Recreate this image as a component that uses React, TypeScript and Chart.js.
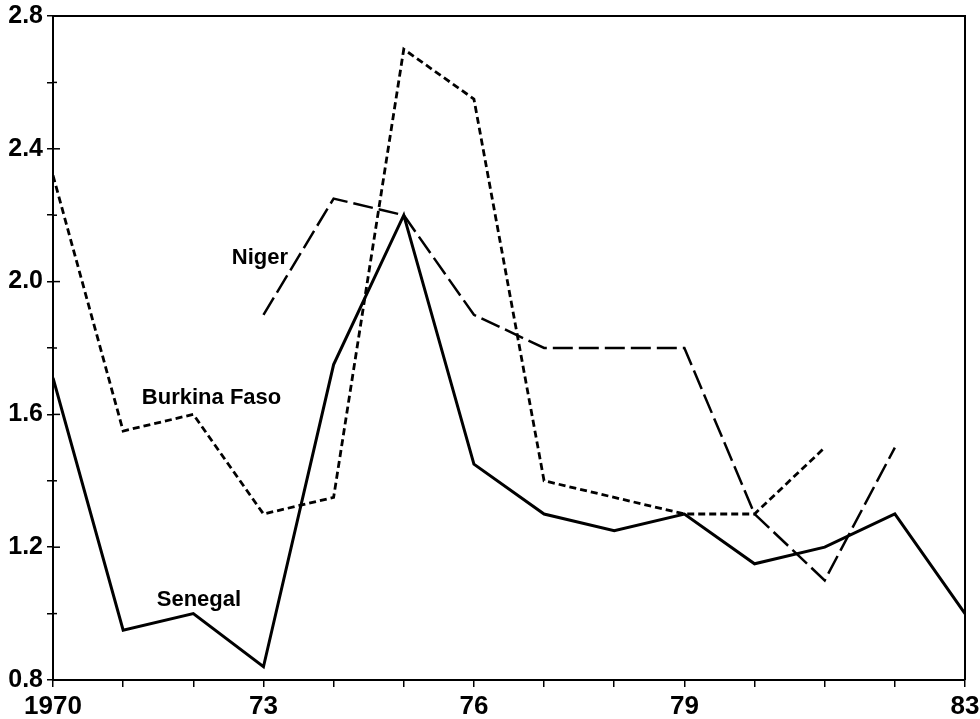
import React, { useEffect, useRef } from "react";
import { Chart, registerables } from "chart.js";

Chart.register(...registerables);

const years = [1970, 1971, 1972, 1973, 1974, 1975, 1976, 1977, 1978, 1979, 1980, 1981, 1982, 1983];
const senegal = [1.71, 0.95, 1.0, 0.84, 1.75, 2.2, 1.45, 1.3, 1.25, 1.3, 1.15, 1.2, 1.3, 1.0];
const burkinaFaso = [2.32, 1.55, 1.6, 1.3, 1.35, 2.7, 2.55, 1.4, 1.35, 1.3, 1.3, 1.5, null, null];
const niger = [null, null, null, 1.9, 2.25, 2.2, 1.9, 1.8, 1.8, 1.8, 1.3, 1.1, 1.5, null];

const xTickLabels: Record<number, string> = { 1970: "1970", 1973: "73", 1976: "76", 1979: "79", 1983: "83" };
const yTickLabels = ["0.8", "1.2", "1.6", "2.0", "2.4", "2.8"];

const seriesLabels = [
  { text: "Niger", x: 1972.95, y: 2.07 },
  { text: "Burkina Faso", x: 1972.26, y: 1.651 },
  { text: "Senegal", x: 1972.08, y: 1.041 },
];

const toPoints = (vals: (number | null)[]) =>
  years.map((yr, i) => ({ x: yr, y: vals[i] }));

const framePlugin = {
  id: "frameAndLabels",
  afterDatasetsDraw(chart: any) {
    const { ctx, chartArea, scales } = chart;
    const ys = scales.y;
    ctx.save();
    ctx.strokeStyle = "#000";
    ctx.lineWidth = 2;
    ctx.beginPath();
    ctx.moveTo(chartArea.left, chartArea.top);
    ctx.lineTo(chartArea.right, chartArea.top);
    ctx.lineTo(chartArea.right, chartArea.bottom);
    ctx.stroke();
    ctx.lineWidth = 1.5;
    ys.ticks.forEach((t: any) => {
      const py = ys.getPixelForValue(t.value);
      const major = yTickLabels.includes(Number(t.value).toFixed(1));
      ctx.beginPath();
      ctx.moveTo(chartArea.left, py);
      ctx.lineTo(chartArea.left + (major ? 7 : 4), py);
      ctx.stroke();
    });
    ctx.fillStyle = "#000";
    ctx.font = "bold 22px 'Liberation Sans', Arial, sans-serif";
    ctx.textAlign = "center";
    ctx.textBaseline = "middle";
    seriesLabels.forEach((l) => {
      ctx.fillText(l.text, scales.x.getPixelForValue(l.x), ys.getPixelForValue(l.y));
    });
    ctx.restore();
  },
};

export default function App() {
  const ref = useRef<HTMLCanvasElement | null>(null);
  useEffect(() => {
    if (!ref.current) return;
    const chart = new Chart(ref.current, {
      type: "line",
      data: {
        datasets: [
          {
            label: "Senegal",
            data: toPoints(senegal),
            borderColor: "#000",
            borderWidth: 3,
            pointRadius: 0,
            tension: 0,
            spanGaps: false,
          },
          {
            label: "Burkina Faso",
            data: toPoints(burkinaFaso),
            borderColor: "#000",
            borderWidth: 2.8,
            borderDash: [7, 4],
            pointRadius: 0,
            tension: 0,
            spanGaps: false,
          },
          {
            label: "Niger",
            data: toPoints(niger),
            borderColor: "#000",
            borderWidth: 2.5,
            borderDash: [20, 6],
            pointRadius: 0,
            tension: 0,
            spanGaps: false,
          },
        ],
      },
      options: {
        responsive: false,
        animation: false,
        events: [],
        layout: { padding: { left: 0, right: 15, top: 16, bottom: 0 } },
        plugins: { legend: { display: false }, tooltip: { enabled: false } },
        scales: {
          x: {
            type: "linear",
            min: 1970,
            max: 1983,
            afterFit: (s: any) => {
              s.height = 39;
              s.paddingLeft = 0;
              s.paddingRight = 0;
            },
            ticks: {
              stepSize: 1,
              autoSkip: false,
              maxRotation: 0,
              padding: 4,
              color: "#000",
              font: { family: "'Liberation Sans', Arial, sans-serif", size: 26, weight: "bold" },
              callback: (v: any) => xTickLabels[Math.round(Number(v))] ?? "",
            },
            grid: { drawOnChartArea: false, drawTicks: true, tickLength: 7, color: "#000", lineWidth: 1.5 },
            border: { display: true, color: "#000", width: 2 },
          },
          y: {
            type: "linear",
            min: 0.8,
            max: 2.8,
            afterFit: (s: any) => {
              s.width = 53;
              s.paddingTop = 0;
              s.paddingBottom = 0;
            },
            ticks: {
              stepSize: 0.2,
              autoSkip: false,
              padding: 4,
              color: "#000",
              font: { family: "'Liberation Sans', Arial, sans-serif", size: 25, weight: "bold" },
              callback: (v: any) => {
                const s = Number(v).toFixed(1);
                return yTickLabels.includes(s) ? s : "";
              },
            },
            grid: { drawOnChartArea: false, drawTicks: true, tickLength: 6, color: "#000", lineWidth: 1.5 },
            border: { display: true, color: "#000", width: 2 },
          },
        },
      },
      plugins: [framePlugin],
    } as any);
    return () => chart.destroy();
  }, []);
  return (
    <div style={{ position: "absolute", left: 0, top: 0, width: 980, height: 719, background: "#fff" }}>
      <canvas ref={ref} width={980} height={719} />
    </div>
  );
}
